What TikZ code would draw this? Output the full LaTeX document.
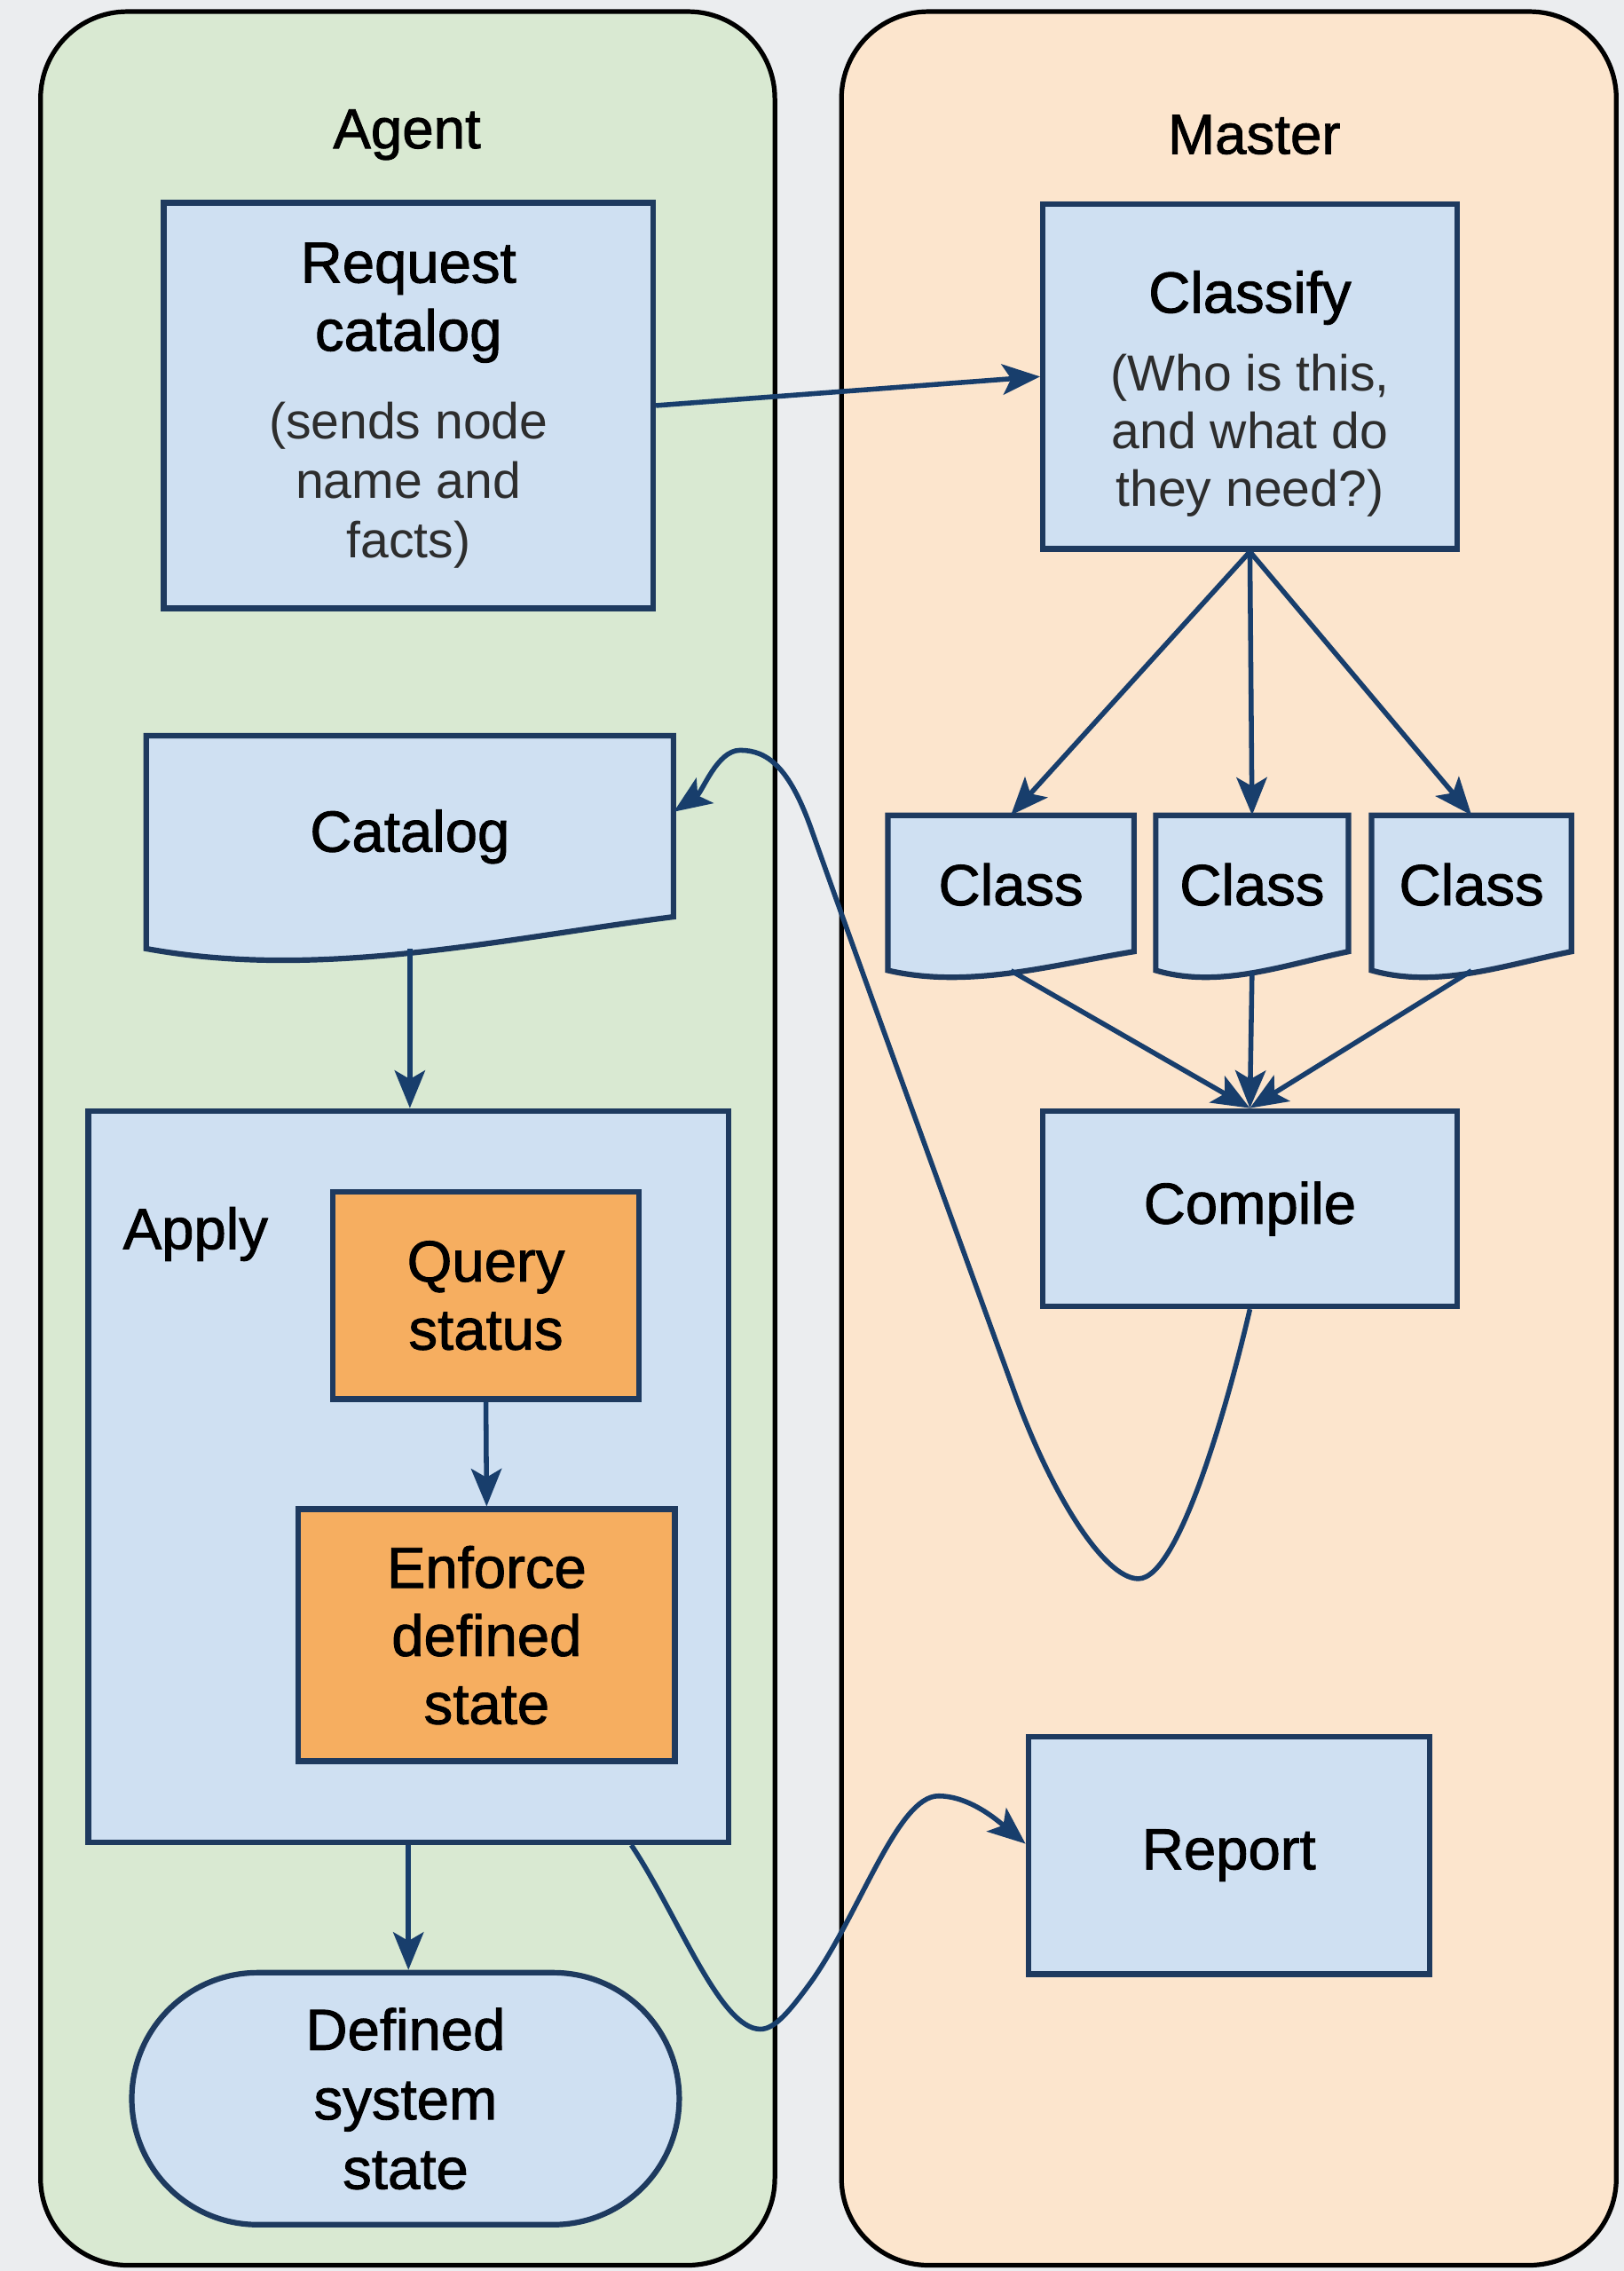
\documentclass[tikz,border=0pt]{standalone}
\usepackage{fontspec}
\setmainfont{Liberation Sans}
\newfontfamily\labelface{Liberation Sans}[FakeBold=1.4]
\usetikzlibrary{arrows.meta}
\definecolor{bggray}{RGB}{235,237,239}
\definecolor{agentgreen}{RGB}{217,233,210}
\definecolor{masterpeach}{RGB}{252,229,205}
\definecolor{boxblue}{RGB}{207,224,242}
\definecolor{actorange}{RGB}{246,174,96}
\definecolor{edgeblue}{RGB}{30,58,95}
\definecolor{linkblue}{RGB}{24,62,108}
\definecolor{notegray}{RGB}{45,45,45}
\newcommand{\labelsize}{\labelface\fontsize{40}{47}\selectfont}
\newcommand{\notesize}{\normalfont\fontsize{35}{41}\selectfont\color{notegray}}
\tikzstyle{lane} = [rectangle, rounded corners=60pt, draw=black, line width=3.2pt, minimum height=1556pt]
\tikzstyle{heading} = [font=\labelface\fontsize{39}{45}\selectfont, text=black]
\tikzstyle{process} = [rectangle, draw=edgeblue, line width=3.8pt, fill=boxblue, align=center,
font=\labelsize, text=black]
\tikzstyle{action} = [process, fill=actorange]
\tikzstyle{terminal} = [process, rounded corners=87pt]
\tikzstyle{document} = [rectangle, align=center, font=\labelsize, text=black, text depth=12pt]
\tikzstyle{docline} = [draw=edgeblue, line width=3.8pt, fill=boxblue]
\tikzstyle{link} = [-{Stealth[length=26pt, width=21pt, inset=6pt]}, draw=linkblue, line width=3.4pt]

\begin{document}
\begin{tikzpicture}[x=1pt, y=-1pt]
    \fill[bggray] (0,0) rectangle (1121,1568);
    \useasboundingbox (0,0) rectangle (1121,1568);

    \node(agentLane)[lane, fill=agentgreen, minimum width=507pt] at (281.5,786) {};
    \node(masterLane)[lane, fill=masterpeach, minimum width=535pt] at (848.5,786) {};
    \node(agentTitle)[heading] at (281,93) {Agent};
    \node(masterTitle)[heading] at (866,93) {Master};

    % wavy outlines of the documents
    \foreach \xl/\xr/\yt/\yb/\r in {101/465/508/655/22, 613/783/563/670/13, 798/931/563/670/13, 947/1085/563/670/13}
        \draw[docline] (\xl,\yt) -- (\xr,\yt) -- (\xr,\yb-\r)
        .. controls ({\xl+0.67*(\xr-\xl)},{\yb-0.3*\r}) and ({\xl+0.33*(\xr-\xl)},{\yb+\r}) .. (\xl,\yb) -- cycle;

    \node(request)[process, minimum width=338pt, minimum height=280pt] at (282,280)
        {Request\\catalog\\[14pt]{\notesize (sends node}\\[-6pt]{\notesize name and}\\[-6pt]{\notesize facts)}};
    \node(classify)[process, minimum width=286pt, minimum height=238pt, text height=187pt] at (863,260)
        {Classify\\[7pt]{\notesize (Who is this,}\\[-7pt]{\notesize and what do}\\[-7pt]{\notesize they need?)}};
    \node(catalog)[document, minimum width=364pt, minimum height=147pt, text depth=16pt] at (283,581.5) {Catalog};
    \node(classA)[document, minimum width=170pt, minimum height=107pt] at (698,616.5) {Class};
    \node(classB)[document, minimum width=133pt, minimum height=107pt] at (864.5,616.5) {Class};
    \node(classC)[document, minimum width=138pt, minimum height=107pt] at (1016,616.5) {Class};
    \node(compile)[process, minimum width=286pt, minimum height=135pt] at (863,834.5) {Compile};
    \node(apply)[process, minimum width=442pt, minimum height=505pt] at (282,1019.5) {};
    \node(applyTitle)[heading, font=\labelsize] at (135,852) {Apply};
    \node(query)[action, minimum width=211pt, minimum height=143pt] at (335.5,894.5) {Query\\status};
    \node(enforce)[action, minimum width=260pt, minimum height=174pt] at (336,1129) {Enforce\\defined\\state};
    \node(defined)[terminal, minimum width=378pt, minimum height=174pt] at (280,1449)
        {Defined\\[1pt]system\\[1pt]state};
    \node(report)[process, minimum width=277pt, minimum height=164pt] at (848.5,1281) {Report};

    \draw[link] (request.east) -- (classify.west);
    \foreach \c in {classA, classB, classC} {
        \draw[link] (classify.south) -- (\c.north);
        \draw[link] (\c.south) -- (compile.north);
    }
    \draw[link] (catalog.south) -- (catalog.south |- apply.north);
    \draw[link] (query.south) -- (enforce.north);
    \draw[link] (apply.south) -- (apply.south |- defined.north);

    \draw[link] (compile.south) .. controls (850,960) and (815,1090) .. (786,1090)
        .. controls (762,1090) and (725,1030) .. (700,960)
        .. controls (670,877) and (590,657) .. (560,572)
        .. controls (545,530) and (530,518) .. (511,518)
        .. controls (495,518) and (485,547) .. ([yshift=21pt]catalog.east);
    \draw[link] ([xshift=-69pt]apply.south east) .. controls (468,1322) and (497,1401) .. (525,1401)
        .. controls (535,1401) and (545,1389) .. (561,1367)
        .. controls (595,1318) and (620,1240) .. (648,1240)
        .. controls (670,1240) and (690,1258) .. ([yshift=8pt]report.west);
\end{tikzpicture}
\end{document}
